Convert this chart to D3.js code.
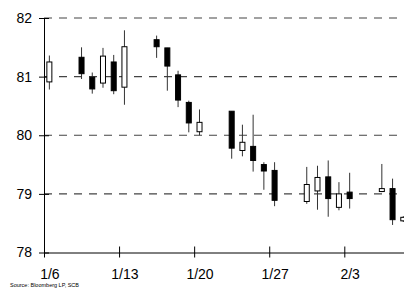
<!DOCTYPE html>
<html>
<head>
<meta charset="utf-8">
<script src="https://cdn.jsdelivr.net/npm/d3@7"></script>
<style>
	html, body { margin: 0; padding: 0; background: #fff; }
	svg { display: block; font-family: 'Liberation Sans', Arial, sans-serif; }
</style>
</head>
<body>
<div id="chart"></div>
<script>
// daily candles, USD/JPY-style range, Jan-Feb 2006
const dates = ['2006-01-06', '2006-01-09', '2006-01-10', '2006-01-11', '2006-01-12', '2006-01-13',
	'2006-01-16', '2006-01-17', '2006-01-18', '2006-01-19', '2006-01-20',
	'2006-01-23', '2006-01-24', '2006-01-25', '2006-01-26', '2006-01-27',
	'2006-01-30', '2006-01-31', '2006-02-01', '2006-02-02', '2006-02-03',
	'2006-02-06', '2006-02-07', '2006-02-08'];
const open  = [80.91, 81.33, 80.99, 80.89, 81.25, 80.82, 81.63, 81.49, 81.03, 80.56, 80.06, 80.41, 79.74, 79.81, 79.50, 79.40, 78.87, 79.05, 79.29, 78.77, 79.03, 79.04, 79.09, 78.54];
const high  = [81.36, 81.50, 81.07, 81.49, 81.37, 81.79, 81.70, 81.49, 81.10, 80.59, 80.44, 80.41, 80.18, 80.35, 79.54, 79.54, 79.46, 79.48, 79.57, 79.20, 79.36, 79.51, 79.26, 78.62];
const low   = [80.78, 80.96, 80.71, 80.81, 80.70, 80.52, 81.32, 80.76, 80.48, 80.05, 80.00, 79.60, 79.64, 79.38, 79.07, 78.79, 78.83, 78.73, 78.61, 78.72, 78.75, 79.03, 78.47, 78.52];
const close = [81.25, 81.05, 80.79, 81.35, 80.76, 81.51, 81.51, 81.18, 80.60, 80.21, 80.22, 79.78, 79.88, 79.57, 79.39, 78.89, 79.16, 79.28, 78.92, 79.00, 78.92, 79.09, 78.56, 78.60];

const tickDates = ['2006-01-06', '2006-01-13', '2006-01-20', '2006-01-27', '2006-02-03'];
const tickLabels = ['1/6', '1/13', '1/20', '1/27', '2/3'];
const yTicks = [78, 79, 80, 81, 82];
const gridValues = [79, 80, 81, 82];

const parse = d3.utcParse('%Y-%m-%d');
const width = 404;
const height = 290;

const svg = d3.select('#chart')
	.append('svg')
	.attr('width', width)
	.attr('height', height);

const x = d3.scaleUtc()
	.domain([parse('2006-01-06'), parse('2006-02-09')])
	.range([44, 44 + 34 * 10.725]);

const y = d3.scaleLinear()
	.domain([78, 82])
	.range([252.5, 18]);

const noon = d => x(d3.utcHour.offset(d, 12));

// dashed gridlines
svg.append('g')
	.selectAll('line')
	.data(gridValues)
	.enter()
	.append('line')
	.attr('x1', 44)
	.attr('x2', width)
	.attr('y1', d => y(d))
	.attr('y2', d => y(d))
	.attr('stroke', '#444')
	.attr('stroke-width', 1.2)
	.attr('stroke-dasharray', '8,7');

// y axis
const yAxis = svg.append('g')
	.attr('transform', `translate(${x.range()[0]},0)`)
	.call(d3.axisLeft(y).tickValues(yTicks).tickSize(5).tickSizeOuter(0).tickPadding(7).tickFormat(d3.format('d')));

yAxis.select('.domain').attr('stroke', '#000');
yAxis.selectAll('.tick line').attr('x1', 5).attr('stroke', '#000');
yAxis.selectAll('.tick text')
	.attr('font-size', 14)
	.attr('font-family', "'Liberation Sans', Arial, sans-serif")
	.attr('fill', '#000');

// x axis
const xAxis = svg.append('g')
	.attr('transform', `translate(0,${y(78)})`)
	.call(d3.axisBottom(x)
		.tickValues(tickDates.map(parse))
		.tickSize(5)
		.tickSizeOuter(0)
		.tickPadding(12)
		.tickFormat((d, i) => tickLabels[i]));

xAxis.select('.domain').attr('stroke', '#000');
xAxis.selectAll('.tick line').attr('y1', -6).attr('stroke', '#000');
xAxis.selectAll('.tick text')
	.attr('x', x(d3.utcHour.offset(x.domain()[0], 12)) - x(x.domain()[0]))
	.attr('font-size', 14)
	.attr('font-family', "'Liberation Sans', Arial, sans-serif")
	.attr('fill', '#000');

// candles
const candles = dates.map((d, i) => ({
	date: parse(d),
	open: open[i],
	high: high[i],
	low: low[i],
	close: close[i]
}));

const groups = svg.append('g')
	.selectAll('g')
	.data(candles)
	.enter()
	.append('g');

groups.append('line')
	.attr('x1', d => noon(d.date))
	.attr('x2', d => noon(d.date))
	.attr('y1', d => y(d.high))
	.attr('y2', d => y(d.low))
	.attr('stroke', '#333')
	.attr('stroke-width', 1);

groups.append('rect')
	.attr('x', d => noon(d.date) - 2.5)
	.attr('width', 5)
	.attr('y', d => y(Math.max(d.open, d.close)))
	.attr('height', d => Math.max(1, Math.abs(y(d.open) - y(d.close))))
	.attr('fill', d => (d.close >= d.open ? '#fff' : '#000'))
	.attr('stroke', '#000')
	.attr('stroke-width', 1);

svg.append('text')
	.attr('x', 10)
	.attr('y', 287)
	.attr('font-size', 5.5)
	.attr('fill', '#000')
	.text('Source: Bloomberg LP, SCB');
</script>
</body>
</html>
